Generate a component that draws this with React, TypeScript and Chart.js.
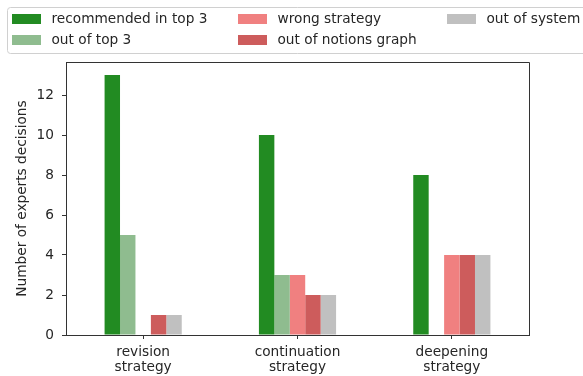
import React, { useEffect, useRef } from "react";
import { Chart, registerables } from "chart.js";

Chart.register(...registerables);

// Categories (two-line tick labels)
const categories = [
  ["revision", "strategy"],
  ["continuation", "strategy"],
  ["deepening", "strategy"],
];

// Series values per category
const recommendedTop3 = [13, 10, 8];
const outOfTop3 = [5, 3, 0];
const wrongStrategy = [0, 3, 4];
const outOfNotionsGraph = [1, 2, 4];
const outOfSystem = [1, 2, 4];

const seriesNames = [
  "recommended in top 3",
  "out of top 3",
  "wrong strategy",
  "out of notions graph",
  "out of system",
];
const seriesColors = ["#228B22", "#8FBC8F", "#F08080", "#CD5C5C", "#C0C0C0"];

const yTicks = [0, 2, 4, 6, 8, 10, 12];
const yMax = 13.65;

const FONT = "DejaVu Sans";
const FS = 13.7;
const TEXT = "#262626";
const AXIS = "#333333";

// Legend drawn in a bordered box, laid out column-major over three columns
const boxLegend = {
  id: "boxLegend",
  afterDraw(chart: any) {
    const ctx = chart.ctx;
    ctx.save();
    // frame
    const bx = 7.5, by = 7.5, bw = 600, bh = 46, r = 3;
    ctx.beginPath();
    ctx.moveTo(bx + r, by);
    ctx.lineTo(bx + bw - r, by);
    ctx.arcTo(bx + bw, by, bx + bw, by + r, r);
    ctx.lineTo(bx + bw, by + bh - r);
    ctx.arcTo(bx + bw, by + bh, bx + bw - r, by + bh, r);
    ctx.lineTo(bx + r, by + bh);
    ctx.arcTo(bx, by + bh, bx, by + bh - r, r);
    ctx.lineTo(bx, by + r);
    ctx.arcTo(bx, by, bx + r, by, r);
    ctx.closePath();
    ctx.fillStyle = "rgba(255,255,255,0.9)";
    ctx.fill();
    ctx.strokeStyle = "#d0d0d0";
    ctx.lineWidth = 1;
    ctx.stroke();

    const colX = [12, 238, 447];
    const rowY = [19, 40];
    ctx.font = `${FS}px "${FONT}"`;
    ctx.textBaseline = "middle";
    ctx.textAlign = "left";
    chart.data.datasets.forEach((ds: any, i: number) => {
      const col = Math.floor(i / 2);
      const row = i % 2;
      const x = colX[col];
      const y = rowY[row];
      ctx.fillStyle = ds.backgroundColor;
      ctx.fillRect(x, y - 5, 29, 10);
      ctx.fillStyle = TEXT;
      ctx.fillText(ds.label, x + 39.5, y);
    });
    ctx.restore();
  },
};

// Top and right spines of the plot frame
const frame = {
  id: "frame",
  afterDatasetsDraw(chart: any) {
    const { ctx, chartArea } = chart;
    ctx.save();
    ctx.strokeStyle = AXIS;
    ctx.lineWidth = 1;
    ctx.beginPath();
    ctx.moveTo(Math.round(chartArea.left) + 0.5, Math.round(chartArea.top) + 0.5);
    ctx.lineTo(Math.round(chartArea.right) + 0.5, Math.round(chartArea.top) + 0.5);
    ctx.lineTo(Math.round(chartArea.right) + 0.5, Math.round(chartArea.bottom) + 0.5);
    ctx.stroke();
    ctx.restore();
  },
};

export default function App() {
  const ref = useRef<HTMLCanvasElement | null>(null);

  useEffect(() => {
    if (!ref.current) return;
    const values = [recommendedTop3, outOfTop3, wrongStrategy, outOfNotionsGraph, outOfSystem];
    const chart = new Chart(ref.current, {
      type: "bar",
      data: {
        labels: categories as any,
        datasets: values.map((v, i) => ({
          label: seriesNames[i],
          data: v,
          backgroundColor: seriesColors[i],
          borderWidth: 0,
          categoryPercentage: 0.5,
          barPercentage: 1.0,
        })),
      },
      options: {
        responsive: false,
        maintainAspectRatio: false,
        animation: false,
        layout: { padding: { top: 62, right: 54, left: 0, bottom: 0 } },
        plugins: {
          legend: { display: false },
          tooltip: { enabled: false },
        },
        scales: {
          x: {
            offset: true,
            grid: {
              display: true,
              offset: false,
              drawOnChartArea: false,
              drawTicks: true,
              tickLength: 4,
              color: AXIS,
            },
            border: { display: true, color: AXIS },
            ticks: {
              color: TEXT,
              padding: 6,
              maxRotation: 0,
              font: { family: FONT, size: FS, lineHeight: "15px" as any },
            },
            afterFit: (s: any) => {
              s.height = 41;
            },
          },
          y: {
            min: 0,
            max: yMax,
            grid: {
              display: true,
              drawOnChartArea: false,
              drawTicks: true,
              tickLength: 4,
              color: AXIS,
            },
            border: { display: true, color: AXIS },
            ticks: {
              color: TEXT,
              padding: 8,
              font: { family: FONT, size: FS },
            },
            afterBuildTicks: (s: any) => {
              s.ticks = yTicks.map((v) => ({ value: v }));
            },
            title: {
              display: true,
              text: "Number of experts decisions",
              color: TEXT,
              font: { family: FONT, size: FS },
              padding: { top: 14, bottom: 0 },
            },
            afterFit: (s: any) => {
              s.width = 66;
            },
          },
        },
      },
      plugins: [frame, boxLegend],
    });
    return () => chart.destroy();
  }, []);

  return (
    <div style={{ position: "fixed", left: 0, top: 0, width: 583, height: 376, background: "#fff" }}>
      <canvas ref={ref} width={583} height={376} style={{ width: 583, height: 376, display: "block" }} />
    </div>
  );
}
